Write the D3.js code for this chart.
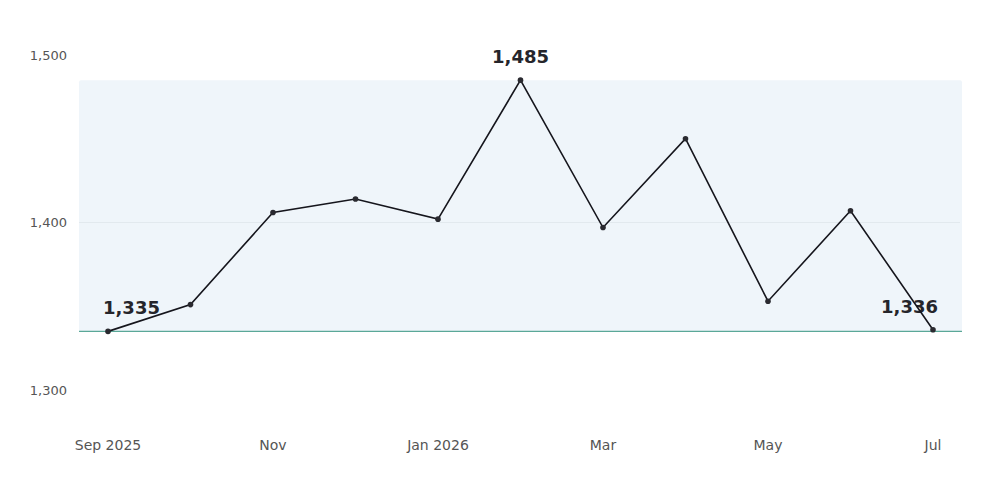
<!DOCTYPE html>
<html>
<head>
<meta charset="utf-8">
<script src="https://cdn.jsdelivr.net/npm/d3@7"></script>
<style>
  body { margin: 0; background: #fff; }
  text { font-family: "DejaVu Sans", sans-serif; }
</style>
</head>
<body>
<div id="viz"></div>
<script>
// ========================================
// Data
// ========================================
var months = ["2025-09", "2025-10", "2025-11", "2025-12", "2026-01", "2026-02",
              "2026-03", "2026-04", "2026-05", "2026-06", "2026-07"];
var values = [1335, 1351, 1406, 1414, 1402, 1485, 1397, 1450, 1353, 1407, 1336];
var y_ticks = [1300, 1400, 1500];
var x_tick_months = ["2025-09", "2025-11", "2026-01", "2026-03", "2026-05", "2026-07"];

var parse = d3.timeParse("%Y-%m");
var points = months.map((m, i) => ({month: m, value: values[i]}));

// ========================================
// SVG setup
// ========================================
var width = 1000, height = 488;
var line_color = '#15151c',
    band_color = '#eff5fa',
    base_color = '#5aa898',
    label_color = '#25252b',
    tick_color = '#555';

var svg = d3.select("#viz")
   .append("svg")
   .attr("width", width)
   .attr("height", height);

// months are evenly spaced
var x = d3.scalePoint()
   .domain(months)
   .range([108, 933]);

var y = d3.scaleLinear()
   .domain([1300, 1500])
   .range([390, 55]);

var ext = d3.extent(values);
var band_left = 79, band_right = 962;

// shaded range band between min and max
svg.append('rect')
   .attr('x', band_left)
   .attr('y', y(ext[1]))
   .attr('width', band_right - band_left)
   .attr('height', y(ext[0]) - y(ext[1]))
   .attr('rx', 2)
   .style('fill', band_color);

// faint gridlines (only visible inside band)
svg.selectAll('.grid')
   .data(y_ticks.filter(d => d > ext[0] && d < ext[1]))
   .enter()
   .append('line')
   .attr('class', 'grid')
   .attr('x1', band_left)
   .attr('x2', band_right - 2)
   .attr('y1', d => y(d))
   .attr('y2', d => y(d))
   .style('stroke', '#e2e9ee')
   .style('stroke-width', 1);

// baseline at minimum
svg.append('line')
   .attr('x1', band_left)
   .attr('x2', band_right)
   .attr('y1', y(ext[0]))
   .attr('y2', y(ext[0]))
   .style('stroke', base_color)
   .style('stroke-width', 1.2);

// y axis labels
svg.selectAll('.ytick')
   .data(y_ticks)
   .enter()
   .append('text')
   .attr('class', 'ytick')
   .attr('x', 67)
   .attr('y', d => y(d))
   .attr('dy', '0.35em')
   .attr('text-anchor', 'end')
   .style('font-size', '13px')
   .style('fill', tick_color)
   .text(d => d3.format(',')(d));

// x axis labels
var fmt_x = (m, i) => (i === 0 || parse(m).getMonth() === 0) ? d3.timeFormat('%b %Y')(parse(m)) : d3.timeFormat('%b')(parse(m));
svg.selectAll('.xtick')
   .data(x_tick_months)
   .enter()
   .append('text')
   .attr('class', 'xtick')
   .attr('x', d => x(d))
   .attr('y', 450)
   .attr('text-anchor', 'middle')
   .style('font-size', '14px')
   .style('fill', tick_color)
   .text(fmt_x);

// annotations: first, max, last
var first = points[0],
    last = points[points.length - 1],
    top_pt = points.reduce((a, b) => b.value > a.value ? b : a);

var notes = [
   {p: first, anchor: 'start', dx: -5, dy: -17},
   {p: top_pt, anchor: 'middle', dx: 0, dy: -17},
   {p: last, anchor: 'end', dx: 5, dy: -17}
];

svg.selectAll('.note')
   .data(notes)
   .enter()
   .append('text')
   .attr('class', 'note')
   .attr('x', d => x(d.p.month) + d.dx)
   .attr('y', d => y(d.p.value) + d.dy)
   .attr('text-anchor', d => d.anchor)
   .style('font-size', '18px')
   .style('font-weight', 'bold')
   .style('fill', label_color)
   .text(d => d3.format(',')(d.p.value));

// line
svg.append('path')
   .datum(points)
   .attr('d', d3.line().x(d => x(d.month)).y(d => y(d.value)))
   .style('fill', 'none')
   .style('stroke', line_color)
   .style('stroke-width', 1.6);

// markers
svg.selectAll('.dot')
   .data(points)
   .enter()
   .append('circle')
   .attr('class', 'dot')
   .attr('cx', d => x(d.month))
   .attr('cy', d => y(d.value))
   .attr('r', 2.8)
   .style('fill', '#2a2a30');
</script>
</body>
</html>
